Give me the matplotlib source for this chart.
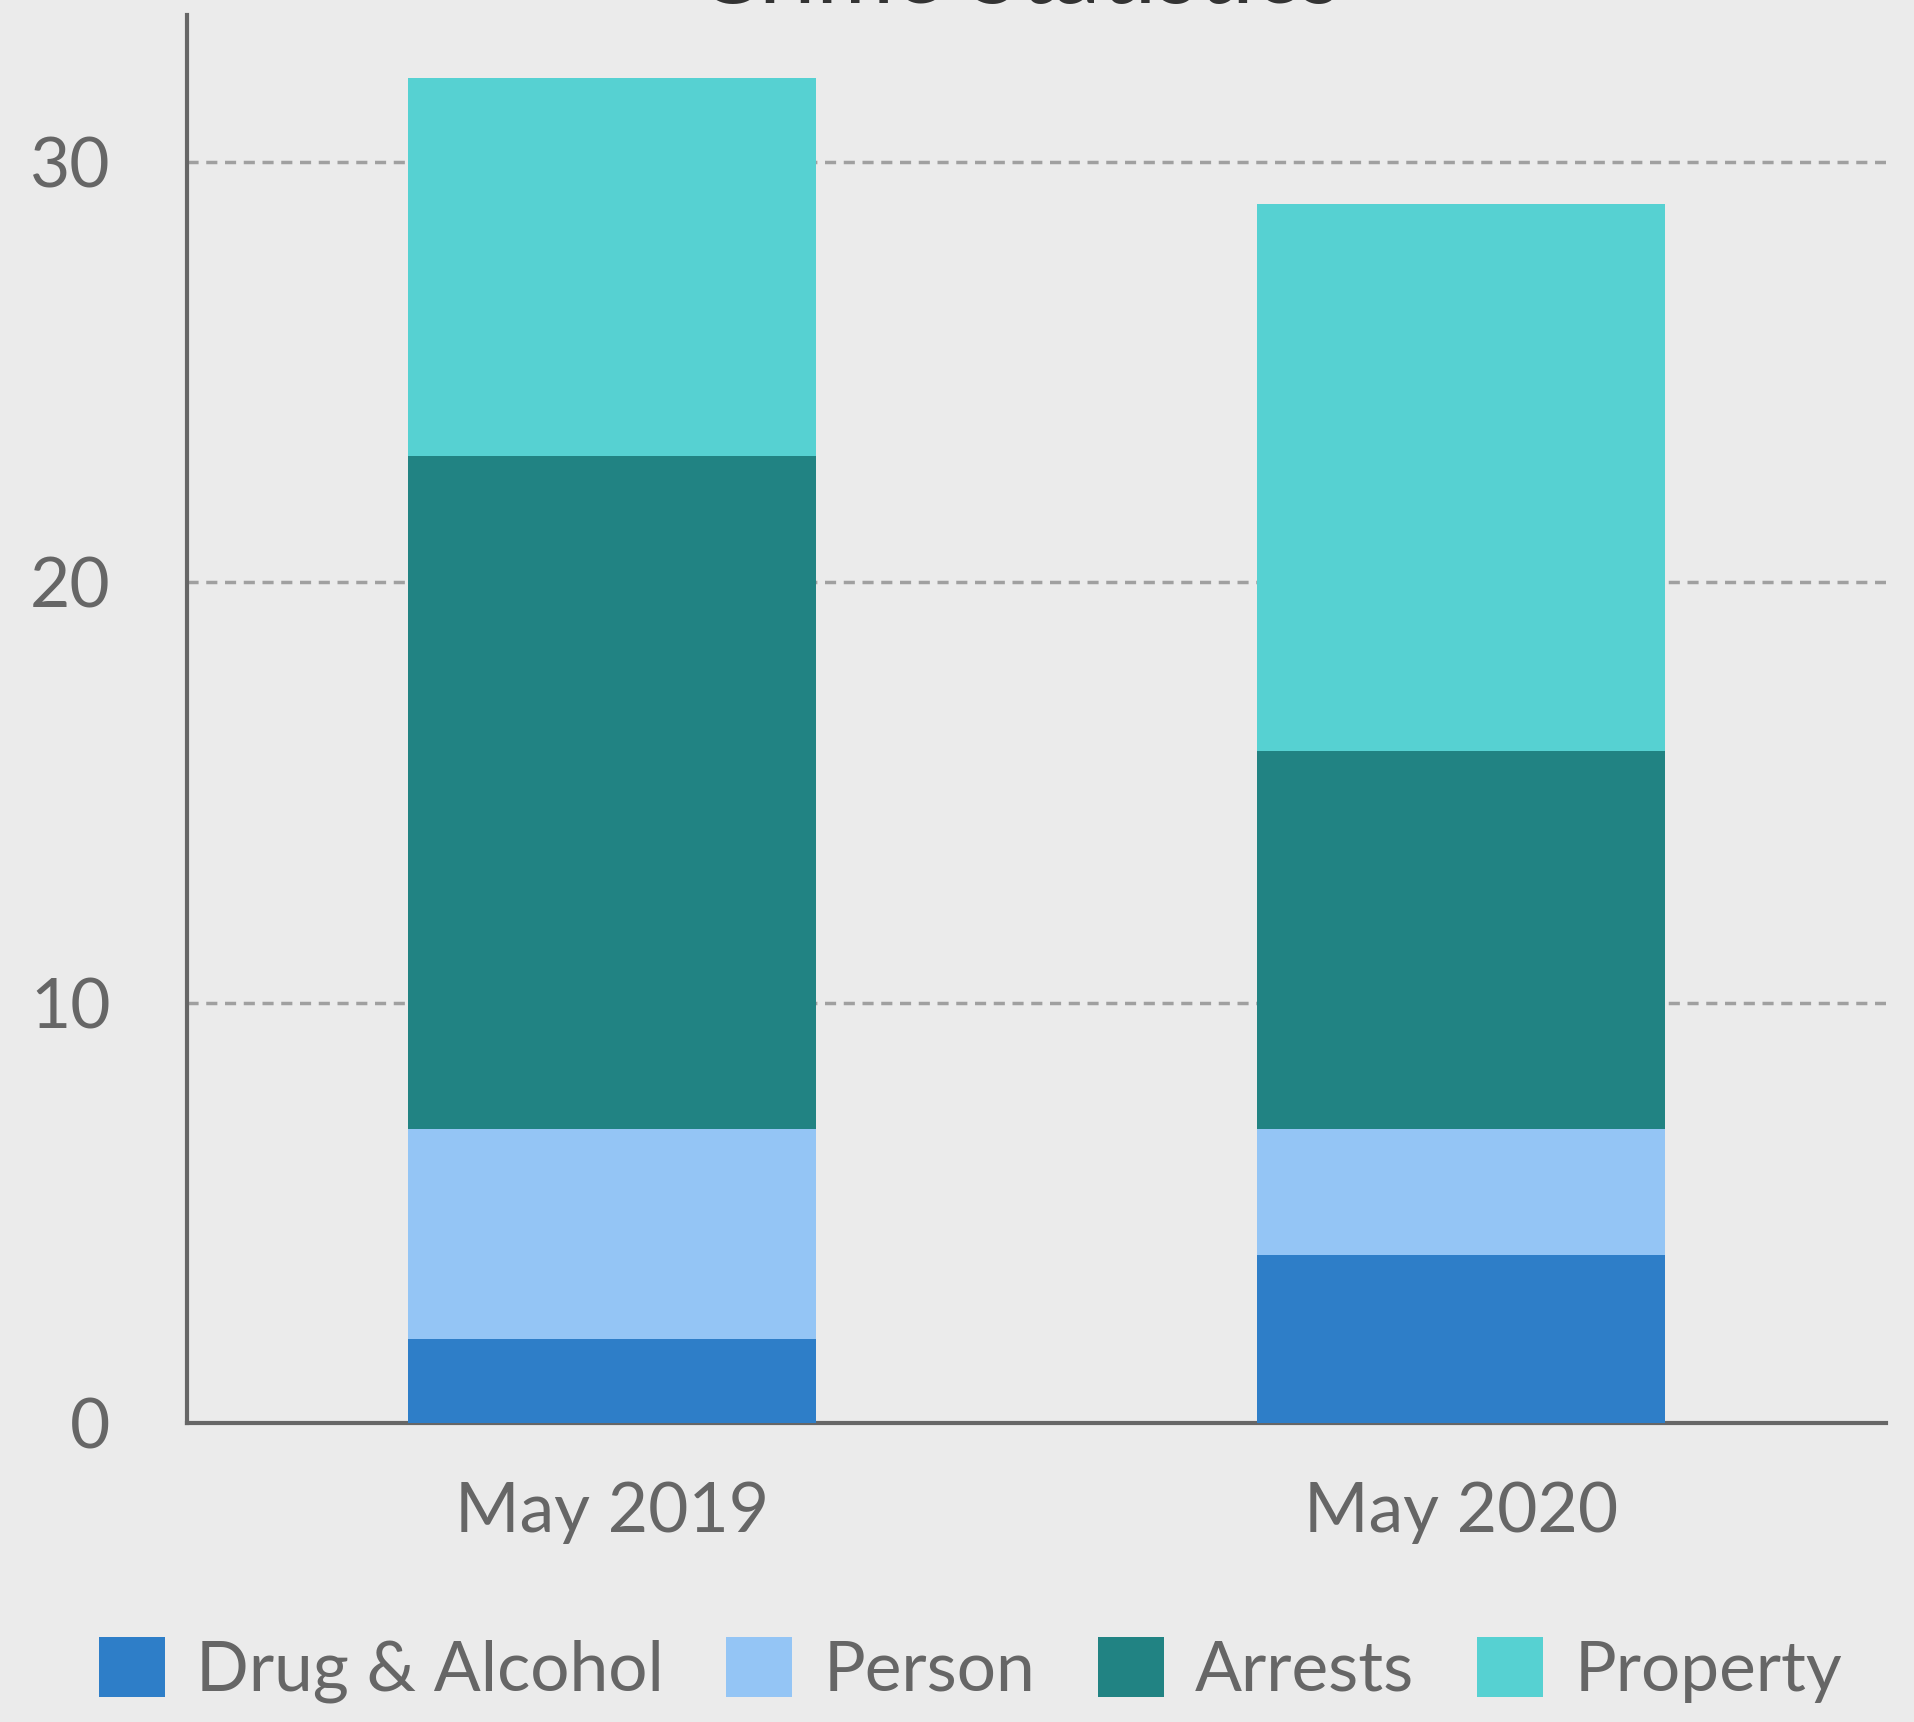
import matplotlib
matplotlib.use("Agg")
import matplotlib.pyplot as plt
import numpy as np

plt.rcParams['font.family'] = ['Lato', 'DejaVu Sans']

categories = ["May 2019", "May 2020"]
series_names = ["Drug & Alcohol", "Person", "Arrests", "Property"]
drug_alcohol = [2, 4]
person = [5, 3]
arrests = [16, 9]
property_ = [9, 13]
series_values = [drug_alcohol, person, arrests, property_]
colors = ["#2E7EC8", "#94C5F5", "#218383", "#56D1D2"]
yticks = [0, 10, 20, 30]
title = "Crime Statistics"

bg = "#EBEBEB"
txt = "#666666"

fig = plt.figure(figsize=(19.14, 17.22), dpi=100, facecolor=bg)
ax = fig.add_axes([0.0977, 0.1736, 0.8877, 0.8177])
ax.set_facecolor(bg)

x = np.arange(len(categories))
bottom = np.zeros(len(categories))
for name, vals, c in zip(series_names, series_values, colors):
    ax.bar(x, vals, width=0.48, bottom=bottom, color=c, label=name, zorder=3)
    bottom += np.array(vals)

ax.set_xlim(-0.5, 1.5)
ax.set_ylim(0, 33.5)
ax.set_yticks(yticks)
ax.set_yticklabels([str(t) for t in yticks])
ax.set_xticks(x)
ax.set_xticklabels(categories)
ax.tick_params(axis='both', length=0, labelsize=50, colors=txt)
ax.tick_params(axis='y', pad=55)
ax.tick_params(axis='x', pad=42)

ax.yaxis.grid(True, linestyle=(0, (3.2, 2.2)), color="#A0A0A0", linewidth=2.5, zorder=0)
ax.set_axisbelow(True)
for s in ["top", "right"]:
    ax.spines[s].set_visible(False)
for s in ["left", "bottom"]:
    ax.spines[s].set_color("#666666")
    ax.spines[s].set_linewidth(3)

fig.text(0.532, 0.9985, title, ha='center', va='baseline', fontsize=68, color="#333333")

fig.legend(loc='center', bbox_to_anchor=(0.507, 0.030), ncol=4, frameon=False,
           fontsize=50, labelcolor=txt, handlelength=0.95, handleheight=0.95,
           handletextpad=0.45, columnspacing=0.9)

fig.savefig("out.png", dpi=100, facecolor=bg)
